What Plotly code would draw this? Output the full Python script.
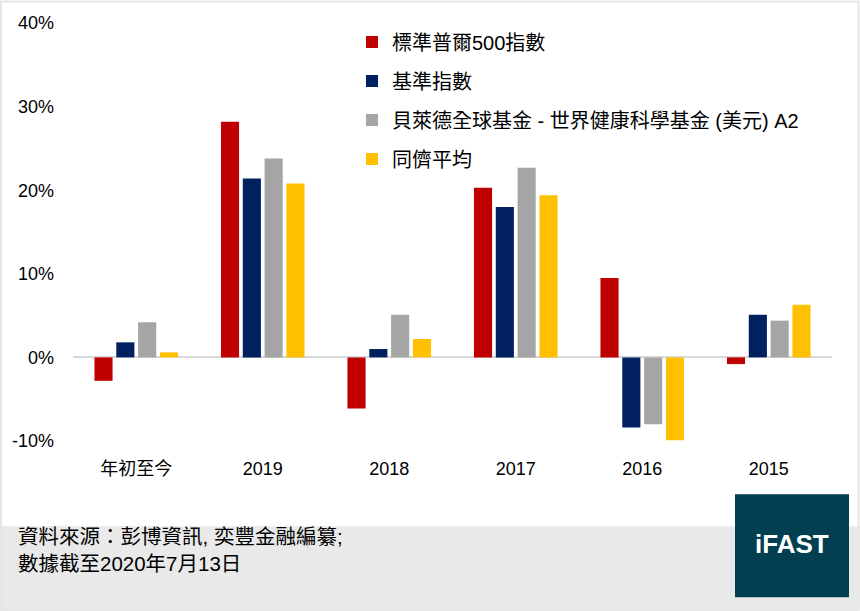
import plotly.graph_objects as go

categories = ["年初至今", "2019", "2018", "2017", "2016", "2015"]
series_names = ["標準普爾500指數", "基準指數", "貝萊德全球基金 - 世界健康科學基金 (美元) A2", "同儕平均"]
sp500 = [-2.8, 28.2, -6.1, 20.3, 9.5, -0.8]
benchmark = [1.8, 21.4, 1.0, 18.0, -8.4, 5.1]
fund = [4.2, 23.8, 5.1, 22.7, -8.0, 4.4]
peer = [0.6, 20.8, 2.2, 19.4, -9.9, 6.3]
series_values = [sp500, benchmark, fund, peer]
colors = ["#C00000", "#002060", "#A5A5A5", "#FFC000"]
y_ticks = [-10, 0, 10, 20, 30, 40]
y_tick_labels = [f"{v}%" for v in y_ticks]
footer_lines = ["資料來源：彭博資訊, 奕豐金融編纂;", "數據截至2020年7月13日"]

W, H = 860, 611
L, R, T, B = 73, 832, 22.5, 441.5

def px_x(x):
    return (x - L) / (R - L)

def px_y(y):
    return (B - y) / (B - T)

FONT = "Liberation Sans, Arial, Noto Sans CJK TC, sans-serif"

fig = go.Figure()
for name, vals, col in zip(series_names, series_values, colors):
    fig.add_trace(go.Bar(x=categories, y=vals, name=name, marker_color=col,
                         marker_line_width=0, legendgroup=name))

shapes = [
    dict(type="rect", xref="paper", yref="paper", x0=px_x(0), x1=px_x(W), y0=px_y(611), y1=px_y(527),
         fillcolor="#E9E9E9", line_width=0, layer="below"),
    dict(type="rect", xref="paper", yref="paper", x0=px_x(1), x1=px_x(858.5), y0=px_y(612), y1=px_y(1),
         fillcolor="rgba(0,0,0,0)", line=dict(color="#E6E6E6", width=2), layer="below"),
    dict(type="rect", xref="paper", yref="paper", x0=px_x(735), x1=px_x(849), y0=px_y(598), y1=px_y(495),
         fillcolor="#023F51", line_width=0, layer="above"),
]

annotations = [
    dict(text="iFAST", xref="paper", yref="paper", x=px_x(792), y=px_y(545), showarrow=False,
         font=dict(family="Liberation Sans, Arial", size=26, color="white", weight="bold"),
         xanchor="center", yanchor="middle"),
    dict(text="<br>".join(footer_lines), xref="paper", yref="paper", x=px_x(16), y=px_y(524),
         showarrow=False, align="left", xanchor="left", yanchor="top",
         font=dict(family=FONT, size=20.5, color="#000000")),
]

fig.update_layout(
    width=W, height=H,
    margin=dict(l=L, r=W - R, t=T, b=H - B, pad=0),
    paper_bgcolor="white", plot_bgcolor="white",
    barmode="group", bargap=0.31, bargroupgap=0.17,
    font=dict(family=FONT, size=18, color="#000000"),
    shapes=shapes, annotations=annotations,
    showlegend=True,
    legend=dict(x=px_x(352), y=px_y(22), xanchor="left", yanchor="top",
                font=dict(family=FONT, size=20, color="#000000"),
                tracegroupgap=10, bgcolor="rgba(0,0,0,0)", itemclick=False),
    xaxis=dict(showline=False, showgrid=False, ticks="", tickfont=dict(size=18),
               ticklabelstandoff=15, fixedrange=True),
    yaxis=dict(range=[-10, 40], tickvals=y_ticks, ticktext=y_tick_labels, showgrid=False,
               zeroline=True, zerolinecolor="#D9D9D9", zerolinewidth=2, showline=False,
               ticks="", tickfont=dict(size=18), ticklabelstandoff=18, fixedrange=True),
)

fig.write_html("out.html", config={"displayModeBar": False},
               post_script="document.body.style.margin='0';document.body.style.overflow='hidden';")
